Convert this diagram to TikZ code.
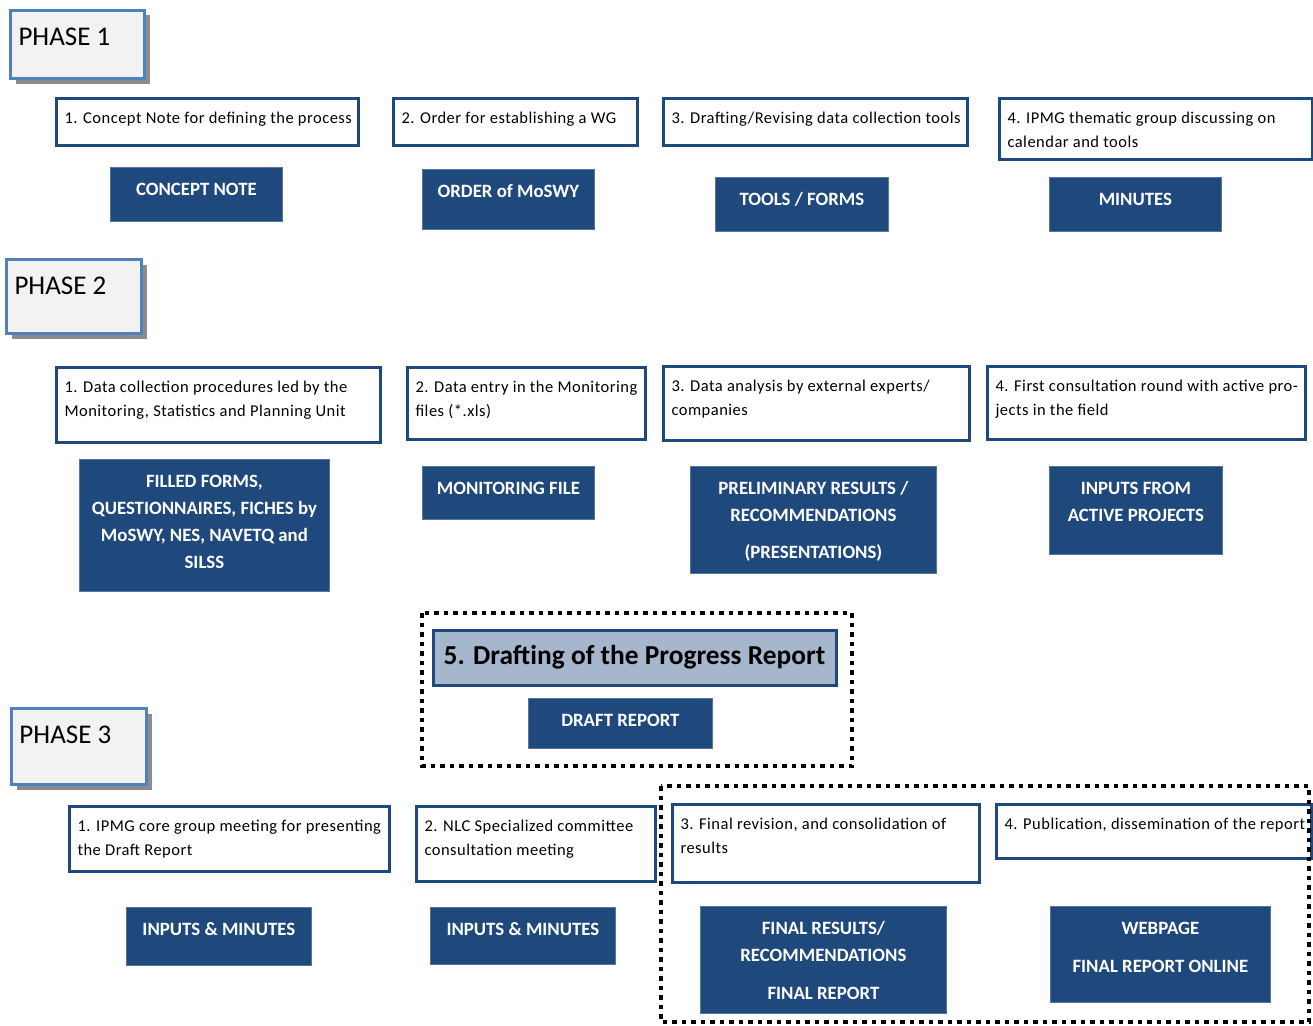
\documentclass[tikz,border=0pt]{standalone}
\usepackage{fontspec}
\setmainfont{Carlito}
\newfontfamily\spacedfont[LetterSpace=3]{Carlito}
\usetikzlibrary{shadows}
\definecolor{dblue}{RGB}{31,73,125}
\definecolor{pborder}{RGB}{79,129,189}
\definecolor{pfill}{RGB}{242,242,242}
\definecolor{tfill}{RGB}{166,182,205}
\tikzset{
  wbox/.style={draw=dblue, line width=3pt, fill=white, inner sep=0pt, anchor=north west,
    font=\spacedfont\fontsize{16.5}{24}\selectfont},
  dbox/.style={fill=dblue, draw=dblue!75!white, line width=0.8pt, inner sep=0pt, anchor=north west,
    text=white, font=\bfseries\fontsize{18.8}{27}\selectfont},
  phasebox/.style={draw=pborder, line width=3pt, fill=pfill, inner sep=0pt, anchor=north west,
    font=\fontsize{27}{30}\selectfont,
    drop shadow={shadow xshift=5pt, shadow yshift=-5pt, opacity=1, fill=black!45}},
  titlebox/.style={draw=dblue, line width=3pt, fill=tfill, inner sep=0pt,
    font=\bfseries\fontsize{27.4}{30}\selectfont},
  dotbox/.style={draw=black, line width=4pt, dash pattern=on 4.5pt off 5pt},
}
% white text box: name, x1, y1, x2, y2, text
\newcommand\WB[6]{\node[wbox] (#1) at (#2,#3) {\parbox[t][\dimexpr#5pt-#3pt\relax][t]{\dimexpr#4pt-#2pt\relax}{\raggedright\leftskip=8pt\rightskip=-100pt plus 1fil\rule{0pt}{25pt}#6}};}
% dark box
\newcommand\DB[6]{\node[dbox] (#1) at (#2,#3) {\parbox[t][\dimexpr#5pt-#3pt\relax][t]{\dimexpr#4pt-#2pt\relax}{\centering\leftskip=-60pt plus 1fil\rightskip=-60pt plus 1fil\rule{0pt}{28pt}#6}};}
% phase box
\newcommand\PB[6]{\node[phasebox] (#1) at (#2,#3) {\parbox[t][\dimexpr#5pt-#3pt\relax][t]{\dimexpr#4pt-#2pt\relax}{\raggedright\leftskip=8pt\rightskip=-60pt plus 1fil\rule{0pt}{35pt}#6}};}
\begin{document}
\begin{tikzpicture}[x=1pt,y=-1pt]
\useasboundingbox (0,0) rectangle (1313,1025);
\fill[white] (0,0) rectangle (1313,1025);

% PHASE 1
\PB{p1}{9}{9}{143}{77}{PHASE 1}
\WB{t11}{55}{97}{357}{144}{1. Concept Note for defining the process}
\WB{t12}{392}{97}{636}{144}{2. Order for establishing a WG}
\WB{t13}{662}{97}{966}{144}{3. Drafting/Revising data collection tools}
\WB{t14}{998}{97}{1311}{158}{4. IPMG thematic group discussing on\\calendar and tools}
\DB{d11}{110}{167}{282}{221}{CONCEPT NOTE}
\DB{d12}{422}{169}{594}{229}{ORDER of MoSWY}
\DB{d13}{715}{177}{888}{231}{TOOLS / FORMS}
\DB{d14}{1049}{177}{1221}{231}{MINUTES}

% PHASE 2
\PB{p2}{5}{258}{140}{332}{PHASE 2}
\WB{t21}{55}{366}{379}{441}{1. Data collection procedures led by the\\Monitoring, Statistics and Planning Unit}
\WB{t22}{406}{366}{644}{438}{2. Data entry in the Monitoring\\files (*.xls)}
\WB{t23}{662}{365}{968}{439}{3. Data analysis by external experts/\\companies}
\WB{t24}{986}{365}{1304}{438}{4. First consultation round with active pro-\\jects in the field}
\DB{d21}{79}{459}{329}{591}{FILLED FORMS,\\QUESTIONNAIRES, FICHES by\\MoSWY, NES, NAVETQ and\\SILSS}
\DB{d22}{422}{466}{594}{519}{MONITORING FILE}
\DB{d23}{690}{466}{936}{573}{PRELIMINARY RESULTS /\\RECOMMENDATIONS\\[10pt](PRESENTATIONS)}
\DB{d24}{1049}{466}{1222}{554}{INPUTS FROM\\ACTIVE PROJECTS}

% Drafting
\draw[dotbox] (422,613) rectangle (852,766);
\node[titlebox, minimum width=403pt, minimum height=55pt] (t5) at (634.5,657.5) {5. Drafting of the Progress Report};
\DB{d5}{528}{698}{712}{748}{DRAFT REPORT}

% PHASE 3
\PB{p3}{10}{707}{145}{783}{PHASE 3}
\WB{t31}{68}{805}{388}{870}{1. IPMG core group meeting for presenting\\the Draft Report}
\WB{t32}{415}{805}{654}{880}{2. NLC Specialized committee\\consultation meeting}
\WB{t33}{671}{803}{978}{881}{3. Final revision, and consolidation of\\results}
\WB{t34}{995}{803}{1310}{857}{4. Publication, dissemination of the report}
\DB{d31}{126}{907}{311}{965}{INPUTS \& MINUTES}
\DB{d32}{430}{907}{615}{964}{INPUTS \& MINUTES}
\DB{d33}{700}{906}{946}{1013}{FINAL RESULTS/\\RECOMMENDATIONS\\[11pt]FINAL REPORT}
\DB{d34}{1050}{906}{1270}{1002}{WEBPAGE\\[11pt]FINAL REPORT ONLINE}
\draw[dotbox] (661,786) rectangle (1309,1022);
\end{tikzpicture}
\end{document}
